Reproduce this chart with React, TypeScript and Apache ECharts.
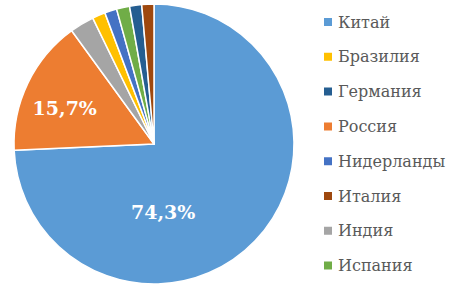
import React, { useEffect, useRef } from "react";
import * as echarts from "echarts";

const sliceNames = ["Китай", "Россия", "Индия", "Бразилия", "Нидерланды", "Испания", "Германия", "Италия"];
const sliceValues = [74.3, 15.7, 2.8, 1.5, 1.4, 1.5, 1.4, 1.4];
const sliceColors = ["#5B9BD5", "#ED7D31", "#A5A5A5", "#FFC000", "#4472C4", "#70AD47", "#255E91", "#9E480E"];
const legendOrder = ["Китай", "Бразилия", "Германия", "Россия", "Нидерланды", "Италия", "Индия", "Испания"];
const labelled = ["Китай", "Россия"];
const labelOffsets: Record<string, number[]> = { "Китай": [-43.6, 17.1], "Россия": [-23.5, -4.1] };

const fmt = (v: number) => v.toFixed(1).replace(".", ",") + "%";
const SERIF = "DejaVu Serif";

export default function App() {
  const ref = useRef<HTMLDivElement>(null);
  useEffect(() => {
    if (!ref.current) return;
    const chart = echarts.init(ref.current, null, { renderer: "svg" });
    chart.setOption({
      animation: false,
      backgroundColor: "#ffffff",
      textStyle: { fontFamily: SERIF },
      legend: {
        orient: "vertical",
        left: 317,
        top: 7.5,
        icon: "rect",
        itemWidth: 10,
        itemHeight: 10,
        itemGap: 15.8,
        data: legendOrder,
        textStyle: { fontFamily: SERIF, fontSize: 16, color: "#595959", lineHeight: 19 },
      },
      series: [
        {
          type: "pie",
          center: [154, 144],
          radius: 140,
          startAngle: 90,
          clockwise: true,
          avoidLabelOverlap: false,
          itemStyle: { borderColor: "#ffffff", borderWidth: 1.5 },
          emphasis: { disabled: true },
          labelLine: { show: false },
          data: sliceNames.map((n, i) => ({
            name: n,
            value: sliceValues[i],
            itemStyle: { color: sliceColors[i] },
            label: labelled.includes(n)
              ? {
                  show: true,
                  position: "inside",
                  offset: labelOffsets[n],
                  formatter: (p: any) => fmt(p.value),
                  color: "#ffffff",
                  fontFamily: SERIF,
                  fontWeight: "bold",
                  fontSize: 19,
                }
              : { show: false },
          })),
        },
      ],
    });
    return () => chart.dispose();
  }, []);
  return <div ref={ref} style={{ position: "absolute", left: 0, top: 0, width: 458, height: 287 }} />;
}
